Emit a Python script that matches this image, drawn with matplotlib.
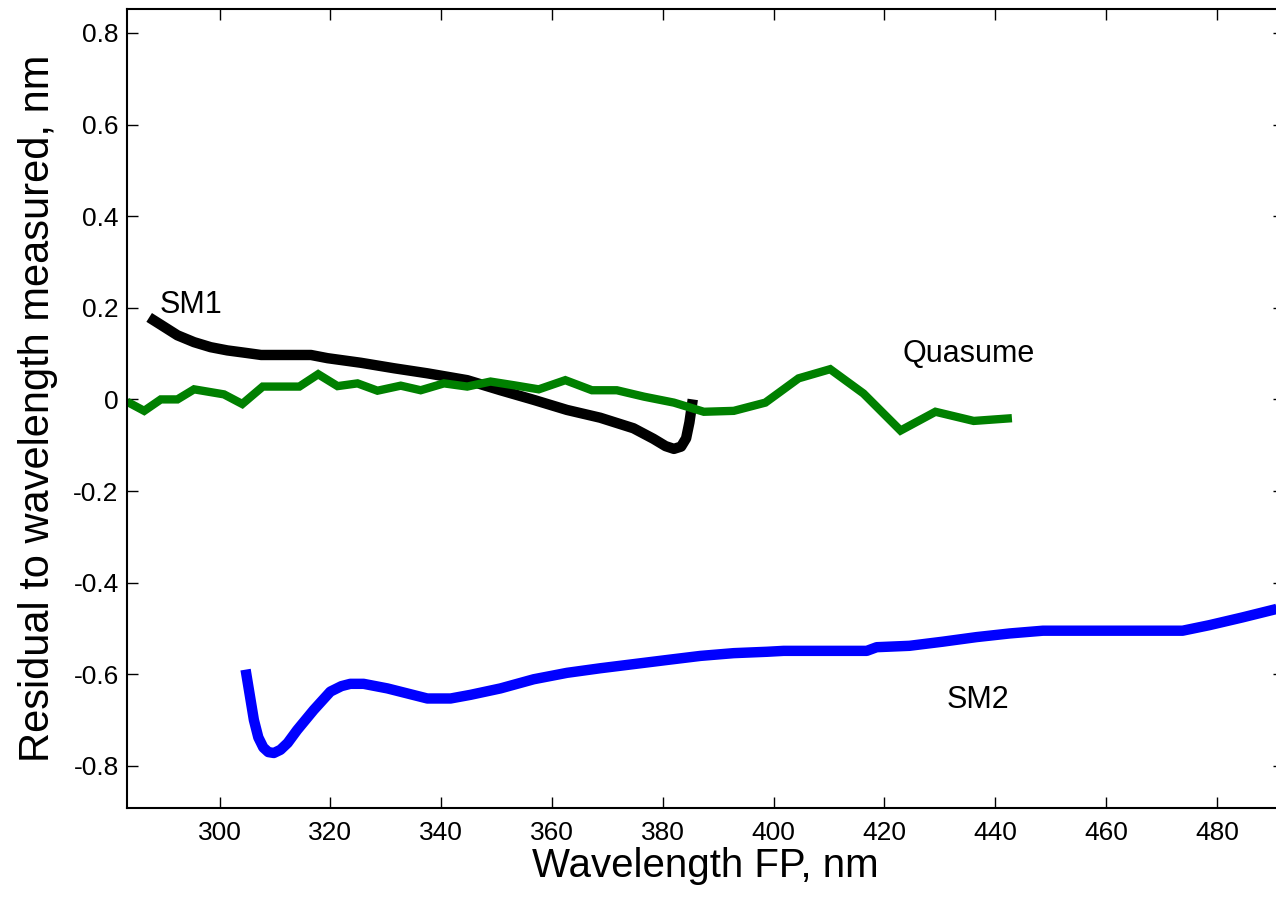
import matplotlib
matplotlib.use("Agg")
import matplotlib.pyplot as plt
import numpy as np

plt.rcParams['font.family'] = ['Liberation Sans', 'DejaVu Sans']

# SM1 (black)
sm1_x = [287.3, 289.4, 292.4, 295.4, 298.4, 301.4, 304.5, 307.5, 310.5, 316.5, 319.5,
         325.5, 331.5, 337.5, 344.7, 350.7, 356.7, 362.7, 368.7, 374.7, 378.3, 380.5,
         382.0, 383.3, 384.2, 384.8, 385.4]
sm1_y = [0.179, 0.163, 0.140, 0.125, 0.114, 0.107, 0.102, 0.097, 0.097, 0.097, 0.090,
         0.080, 0.068, 0.057, 0.042, 0.020, -0.001, -0.023, -0.040, -0.063, -0.086, -0.102,
         -0.108, -0.103, -0.085, -0.050, 0.000]

# Quasume (green)
qua_x = [283.3, 286.4, 289.4, 292.4, 295.4, 300.8, 304.1, 307.8, 314.4, 317.8, 321.3,
         324.9, 328.5, 332.7, 336.3, 340.5, 344.7, 348.9, 353.1, 357.6, 362.4, 367.2,
         371.7, 376.6, 382.0, 387.4, 392.8, 398.5, 404.5, 410.2, 416.2, 422.9, 429.2,
         436.1, 443.0]
qua_y = [-0.005, -0.025, 0.000, 0.000, 0.022, 0.011, -0.010, 0.028, 0.028, 0.055, 0.029,
         0.035, 0.019, 0.030, 0.020, 0.035, 0.028, 0.039, 0.031, 0.022, 0.042, 0.020,
         0.020, 0.006, -0.007, -0.027, -0.025, -0.007, 0.046, 0.066, 0.013, -0.068, -0.027,
         -0.047, -0.041]

# SM2 (blue)
sm2_x = [304.7, 305.3, 306.2, 307.0, 307.9, 308.8, 309.8, 311.0, 312.3, 314.0, 317.0,
         320.0, 322.0, 323.6, 326.0, 330.3, 333.9, 337.5, 341.7, 345.3, 350.7, 356.7,
         362.7, 368.7, 374.7, 380.7, 386.8, 392.8, 398.8, 401.8, 416.8, 418.6, 424.5,
         430.5, 436.6, 442.6, 448.6, 473.8, 478.6, 484.6, 490.6, 492.1]
sm2_y = [-0.590, -0.634, -0.700, -0.738, -0.760, -0.770, -0.772, -0.765, -0.750, -0.722, -0.678,
         -0.638, -0.626, -0.621, -0.621, -0.631, -0.642, -0.653, -0.653, -0.645, -0.631, -0.611,
         -0.597, -0.587, -0.578, -0.569, -0.560, -0.554, -0.551, -0.549, -0.549, -0.541, -0.538,
         -0.529, -0.519, -0.511, -0.505, -0.505, -0.493, -0.476, -0.458, -0.452]

x_ticks = [300, 320, 340, 360, 380, 400, 420, 440, 460, 480]
y_ticks = [-0.8, -0.6, -0.4, -0.2, 0, 0.2, 0.4, 0.6, 0.8]
y_tick_labels = ['-0.8', '-0.6', '-0.4', '-0.2', '0', '0.2', '0.4', '0.6', '0.8']

fig = plt.figure(figsize=(12.76, 9.02), dpi=100)
ax = fig.add_axes([127 / 1276, 1 - 808 / 902, (1284 - 127) / 1276, (808 - 9) / 902])

ax.plot(sm1_x, sm1_y, color='black', lw=7.5, solid_capstyle='butt', solid_joinstyle='round')
ax.plot(qua_x, qua_y, color='#008000', lw=6, solid_capstyle='butt', solid_joinstyle='miter')
ax.plot(sm2_x, sm2_y, color='#0000ff', lw=7.5, solid_capstyle='butt', solid_joinstyle='round')

ax.set_xlim(283.3, 492.1)
ax.set_ylim(-0.8921, 0.8524)
ax.set_xticks(x_ticks)
ax.set_xticklabels([str(t) for t in x_ticks])
ax.set_yticks(y_ticks)
ax.set_yticklabels(y_tick_labels)

ax.tick_params(direction='in', length=8, width=1, top=True, right=True,
               labelsize=19, colors='black')
ax.tick_params(axis='x', pad=9)
ax.tick_params(axis='y', pad=6)
for s in ax.spines.values():
    s.set_linewidth(1.5)

ax.set_xlabel('Wavelength FP, nm', fontsize=29, labelpad=2)
ax.set_ylabel('Residual to wavelength measured, nm', fontsize=30, labelpad=11)

ax.text(289.2, 0.189, 'SM1', fontsize=22, ha='left', va='baseline')
ax.text(423.2, 0.082, 'Quasume', fontsize=22, ha='left', va='baseline')
ax.text(431.2, -0.674, 'SM2', fontsize=22, ha='left', va='baseline')

fig.savefig('out.png', dpi=100)
